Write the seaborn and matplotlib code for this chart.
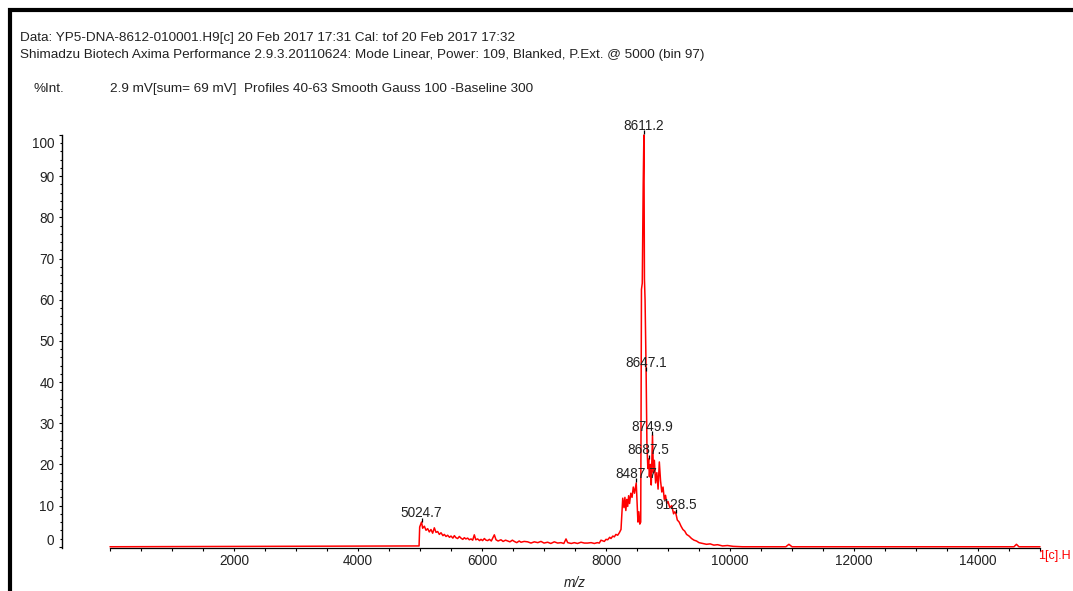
import matplotlib
matplotlib.use('Agg')
import matplotlib.pyplot as plt
import matplotlib.transforms as mtransforms
from matplotlib.patches import Rectangle
from matplotlib.ticker import FixedLocator, MultipleLocator
import pandas as pd
import seaborn as sns

# ---------------- data ----------------
mz = [0, 4975, 4985, 4995, 5024.7, 5043, 5070, 5097, 5124, 5150, 5177, 5204,
      5231, 5258, 5285, 5312, 5339, 5370, 5392, 5420, 5446, 5475, 5500, 5530,
      5554, 5580, 5607, 5635, 5661, 5690, 5715, 5740, 5769, 5795, 5823, 5850,
      5876, 5900, 5930, 5960, 5984, 6010, 6038, 6065, 6091, 6120, 6150, 6199,
      6226, 6260, 6306, 6340, 6380, 6414, 6450, 6490, 6521, 6560, 6600, 6629,
      6680, 6736, 6790, 6844, 6900, 6951, 7000, 7059, 7110, 7166, 7220, 7274,
      7320, 7355, 7382, 7440, 7489, 7540, 7597, 7650, 7704, 7760, 7812, 7860,
      7892, 7919, 7973, 8000, 8027, 8060, 8080, 8110, 8134, 8160, 8188, 8215,
      8242, 8270, 8290, 8305, 8320, 8335, 8350, 8365, 8380, 8400, 8420, 8440,
      8460, 8487.7, 8500, 8515, 8530, 8545, 8560, 8572, 8585, 8600, 8611.2,
      8620, 8630, 8647.1, 8660, 8675, 8687.5, 8700, 8715, 8730, 8749.9, 8765,
      8780, 8800, 8820, 8840, 8860, 8880, 8900, 8920, 8940, 8960, 8980, 9000,
      9030, 9060, 9090, 9110, 9128.5, 9150, 9180, 9210, 9240, 9270, 9300, 9340,
      9380, 9420, 9460, 9500, 9560, 9620, 9680, 9740, 9800, 9880, 9960, 10050,
      10200, 10900, 10950, 11000, 14580, 14620, 14660, 15000]
intensity = [0.0, 0.2, 0.2, 4.8, 6.0, 4.5, 5.0, 4.0, 4.4, 3.6, 4.2, 3.3,
             4.6, 3.5, 3.7, 3.0, 3.4, 2.7, 3.0, 2.5, 2.8, 2.3, 2.6, 2.1,
             2.7, 2.2, 2.0, 2.5, 2.1, 1.8, 2.2, 1.9, 2.1, 1.7, 1.9, 1.6,
             2.9, 1.7, 1.9, 1.5, 1.8, 1.5, 2.0, 1.6, 1.5, 1.8, 1.4, 2.9,
             1.7, 1.4, 1.7, 1.3, 1.6, 1.4, 1.2, 1.6, 1.3, 1.0, 1.4, 1.1,
             1.3, 1.2, 0.9, 1.2, 1.0, 1.3, 0.9, 1.1, 0.8, 1.2, 0.9, 1.0,
             0.8, 1.9, 1.0, 0.8, 1.0, 0.8, 1.1, 0.9, 0.9, 1.0, 0.8, 1.0,
             0.9, 1.6, 1.3, 1.8, 1.7, 2.3, 2.0, 2.6, 2.4, 3.0, 2.8, 3.4,
             4.2, 11.8, 9.5, 12.0, 8.8, 11.5, 9.8, 12.4, 10.5, 13.0, 12.0, 14.5,
             13.0, 15.5, 11.0, 6.0, 8.5, 5.5, 6.0, 62.5, 64.0, 88.0, 100.0,
             65.0, 60.0, 42.6, 25.0, 19.0, 21.3, 17.0, 20.0, 15.0, 27.1, 18.0,
             21.0, 15.5, 18.0, 14.0, 20.6, 16.0, 13.3, 14.5, 11.5, 12.5, 10.5, 11.0,
             9.5, 10.0, 8.0, 8.5, 8.0, 6.5, 6.0, 5.0, 4.2, 3.8, 3.0, 2.6,
             2.0, 1.6, 1.4, 1.0, 0.8, 0.6, 0.7, 0.4, 0.5, 0.2, 0.3, 0.1,
             0.0, 0.0, 0.6, 0.0, 0.0, 0.6, 0.0, 0.0]

peak_mz = [5024.7, 8487.7, 8611.2, 8647.1, 8687.5, 8749.9, 9128.5]
peak_int = [6.0, 15.5, 100.0, 42.6, 21.3, 27.1, 8.0]
peak_labels = ['5024.7', '8487.7', '8611.2', '8647.1', '8687.5', '8749.9', '9128.5']

x_ticks = [2000, 4000, 6000, 8000, 10000, 12000, 14000]
x_tick_labels = ['2000', '4000', '6000', '8000', '10000', '12000', '14000']
y_ticks = [0, 10, 20, 30, 40, 50, 60, 70, 80, 90, 100]
y_tick_labels = ['0', '10', '20', '30', '40', '50', '60', '70', '80', '90', '100']

header_line1 = 'Data: YP5-DNA-8612-010001.H9[c] 20 Feb 2017 17:31 Cal: tof 20 Feb 2017 17:32'
header_line2 = ('Shimadzu Biotech Axima Performance 2.9.3.20110624: Mode Linear, Power: 109, '
                'Blanked, P.Ext. @ 5000 (bin 97)')
int_label = '%Int.'
int_info = '2.9 mV[sum= 69 mV]  Profiles 40-63 Smooth Gauss 100 -Baseline 300'
trace_label = '1[c].H'
x_label = 'm/z'

# ---------------- styling ----------------
sns.set_style('ticks')
plt.rcParams['font.family'] = ['Liberation Sans', 'DejaVu Sans']
TXT = '#222222'
FS = 9.8      # axis / peak labels
HFS = 9.7     # header texts

W, H = 1073, 591
fig = plt.figure(figsize=(W / 100, H / 100), dpi=100)
fig.patch.set_facecolor('white')
ax = fig.add_axes([110 / W, 1 - 548 / H, 930 / W, 413 / H])
ax.set_facecolor('white')

df = pd.DataFrame({'mz': mz, 'intensity': intensity})
sns.lineplot(data=df, x='mz', y='intensity', ax=ax, color='#ff0000',
             linewidth=1.1, estimator=None, sort=False, zorder=5)
for ln in ax.lines:
    ln.set_clip_on(False)

ax.set_xlim(0, 15000)
ax.set_ylim(-0.3, 100)

for s in ['top', 'right']:
    ax.spines[s].set_visible(False)
ax.spines['left'].set_position(('outward', 34.5))
ax.spines['left'].set_linewidth(1.0)
ax.spines['bottom'].set_linewidth(0.9)
ax.spines['left'].set_color('black')
ax.spines['bottom'].set_color('black')

ax.xaxis.set_major_locator(FixedLocator(x_ticks))
ax.set_xticklabels(x_tick_labels)
ax.xaxis.set_minor_locator(MultipleLocator(500))
ax.yaxis.set_major_locator(FixedLocator(y_ticks))
ax.set_yticklabels(y_tick_labels)
ax.yaxis.set_minor_locator(MultipleLocator(2))

ax.tick_params(axis='x', which='both', direction='out', length=2.3, width=0.8,
               pad=2.0, labelsize=FS, labelcolor=TXT, color='black')
ax.tick_params(axis='y', which='major', direction='out', length=2.5, width=0.8,
               pad=3, labelsize=FS, labelcolor=TXT, color='black')
ax.tick_params(axis='y', which='minor', direction='out', length=1.5, width=0.8,
               color='black')

# end labels sit inside the axis extent in the reference
ymaj = ax.yaxis.get_major_ticks()
up = mtransforms.ScaledTranslation(0, 7 / 100, fig.dpi_scale_trans)
down = mtransforms.ScaledTranslation(0, -8 / 100, fig.dpi_scale_trans)
ymaj[0].label1.set_transform(ymaj[0].label1.get_transform() + up)
ymaj[-1].label1.set_transform(ymaj[-1].label1.get_transform() + down)

ax.set_xlabel(x_label, fontsize=FS, style='italic', color=TXT)
ax.xaxis.set_label_coords(0.5, -28 / 413)
ax.set_ylabel('')

# peak labels with small marker ticks
mark_tr = ax.transData + mtransforms.ScaledTranslation(0, 2.5 / 100, fig.dpi_scale_trans)
ax.plot(peak_mz, peak_int, linestyle='none', marker='|', markersize=2.5,
        color='black', markeredgewidth=0.9, transform=mark_tr, clip_on=False, zorder=6)
for m, v, lbl in zip(peak_mz, peak_int, peak_labels):
    ax.annotate(lbl, xy=(m, v), xytext=(0, 3.3), textcoords='offset points',
                ha='center', va='baseline', fontsize=FS, color=TXT,
                annotation_clip=False, zorder=7)

# header texts
fig.text(20 / W, 1 - 38 / H, header_line1, fontsize=HFS, color=TXT, va='center', ha='left')
fig.text(20 / W, 1 - 55 / H, header_line2, fontsize=HFS, color=TXT, va='center', ha='left')
fig.text(33 / W, 1 - 89 / H, int_label, fontsize=HFS, color=TXT, va='center', ha='left')
fig.text(110 / W, 1 - 89 / H, int_info, fontsize=HFS, color=TXT, va='center', ha='left')
fig.text(1071 / W, 1 - 556 / H, trace_label, fontsize=9.0, color='#ff0000',
         va='center', ha='right')

# page frame (left and top edges visible)
frame = Rectangle((10 / W, -0.5), 2.0, (1 - 10 / H) + 0.5, transform=fig.transFigure,
                  fill=False, linewidth=3.0, edgecolor='black', clip_on=False, zorder=10)
fig.add_artist(frame)

fig.savefig('out.png', dpi=100, facecolor='white')
